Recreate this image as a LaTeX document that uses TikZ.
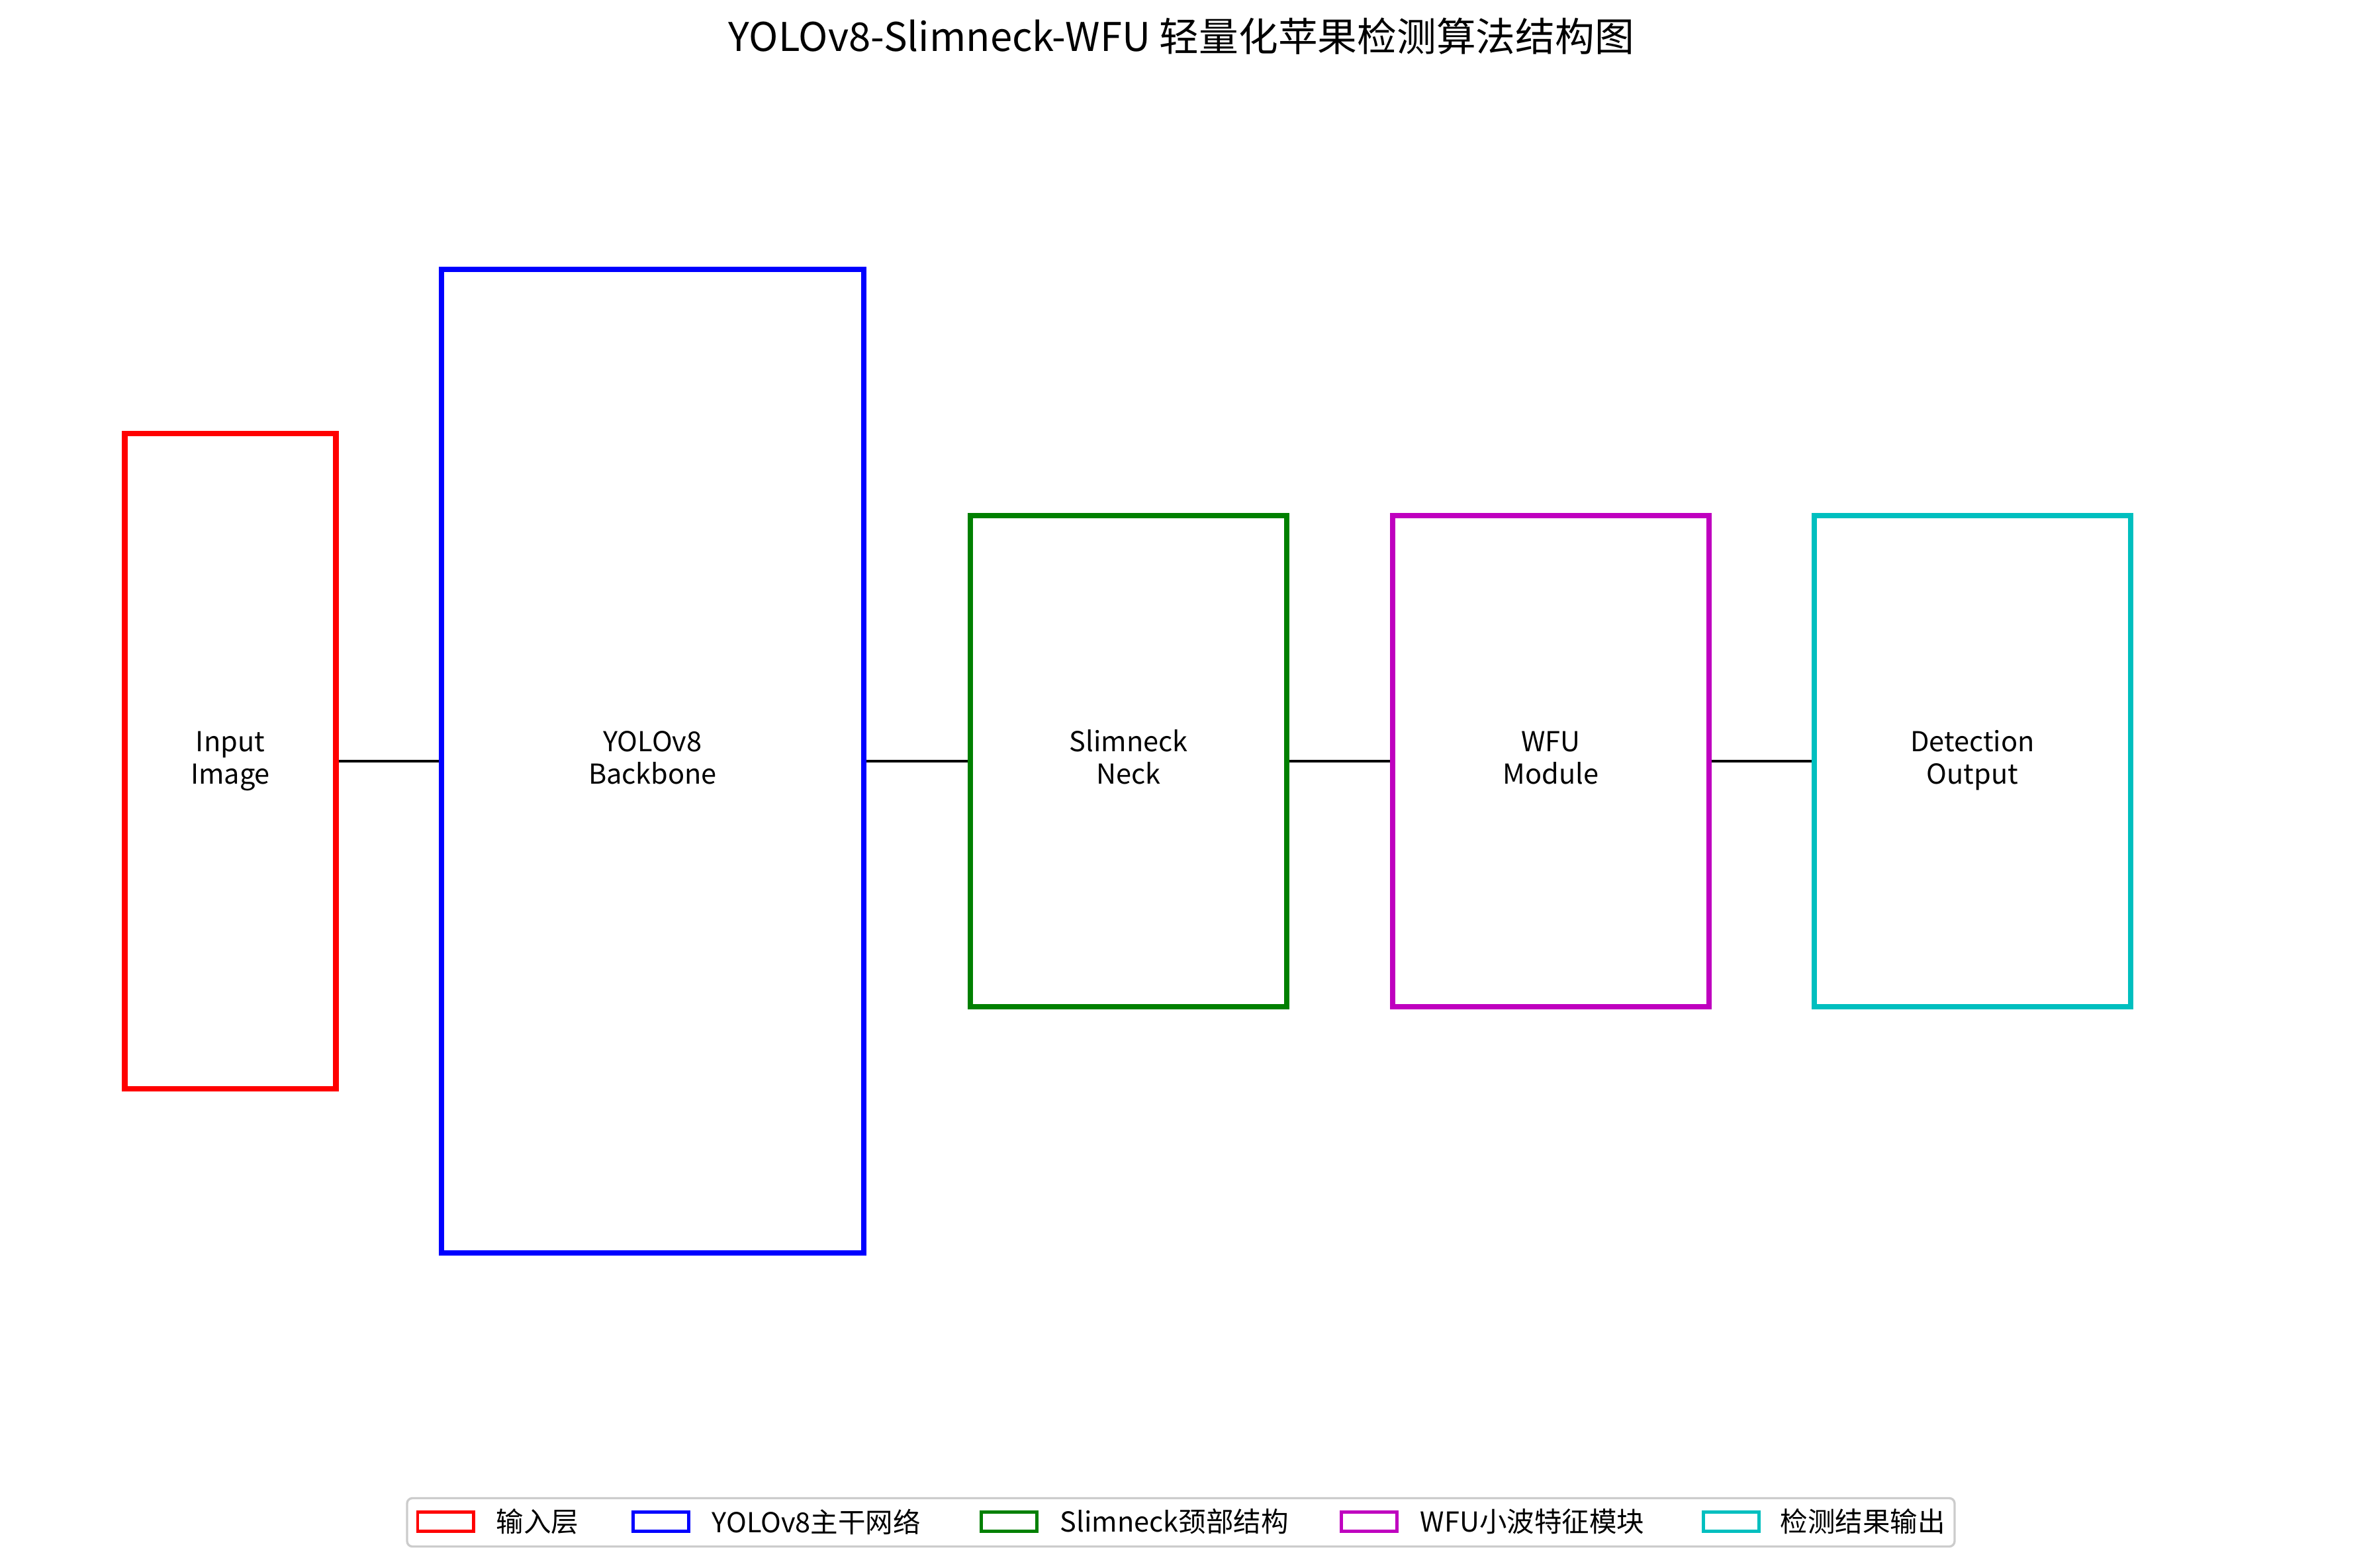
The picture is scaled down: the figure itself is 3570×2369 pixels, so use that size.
\documentclass[tikz,border=0pt]{standalone}
\usepackage{fontspec}
\setmainfont{Noto Sans CJK SC}
\usepackage{tikz}
\def\px{0.0846667mm}
\definecolor{neckgreen}{rgb}{0,0.5,0}
\definecolor{wfumagenta}{rgb}{0.75,0,0.75}
\definecolor{outcyan}{rgb}{0,0.75,0.75}
\tikzstyle{block}=[rectangle,draw,line width=2pt,align=center,inner sep=0pt,font=\fontsize{10}{12}\selectfont]
\tikzstyle{key}=[rectangle,draw,line width=1.2pt,inner sep=0pt,minimum width=84*\px,minimum height=29*\px]
\tikzstyle{keytext}=[anchor=west,inner sep=0pt,font=\fontsize{10}{12}\selectfont]
\newcommand{\block}{\node[block]}
\newcommand{\key}{\node[key]}

\begin{document}
\begin{tikzpicture}[x=\px,y=-\px]
			\useasboundingbox (0,0) rectangle (3570,2369);
			% % % % % % % % % % % % % % % % % % % % % % % % % % % % %
			\node [font=\fontsize{14.4}{17}\selectfont] (h) at (1785,55) {YOLOv8-Slimneck-WFU 轻量化苹果检测算法结构图};
			% % % % % % % % % % % % % % % % % % % % % % % % % % % % %
			\block [draw=red,minimum width=319*\px,minimum height=990*\px] (m1) at (348,1150) {Input\strut\\Image\strut};
			\block [draw=blue,minimum width=638*\px,minimum height=1486*\px] (m2) at (986,1150) {YOLOv8\strut\\Backbone\strut};
			\block [draw=neckgreen,minimum width=478*\px,minimum height=742*\px] (m3) at (1705,1150) {Slimneck\strut\\Neck\strut};
			\block [draw=wfumagenta,minimum width=478*\px,minimum height=742*\px] (m4) at (2343,1150) {WFU\strut\\Module\strut};
			\block [draw=outcyan,minimum width=478*\px,minimum height=742*\px] (m5) at (2980,1150) {Detection\strut\\Output\strut};
			%*********************
			\node [draw=black!20,line width=0.8pt,rounded corners=8*\px,minimum width=2338*\px,minimum height=73*\px] (l) at (1784,2300) {};
			\key [draw=red] (k1) at (673,2299) {};
			\key [draw=blue] (k2) at (998,2299) {};
			\key [draw=neckgreen] (k3) at (1524,2299) {};
			\key [draw=wfumagenta] (k4) at (2068,2299) {};
			\key [draw=outcyan] (k5) at (2615,2299) {};
			\node [keytext] (t1) at (749,2299) {输入层};
			\node [keytext] (t2) at (1075,2299) {YOLOv8主干网络};
			\node [keytext] (t3) at (1601,2299) {Slimneck颈部结构};
			\node [keytext] (t4) at (2145,2299) {WFU小波特征模块};
			\node [keytext] (t5) at (2689,2299) {检测结果输出};
			\path [line width=1.1pt]
			% % % % % % % % % % % % % % % % %
			(m1) edge [] (m2)
			(m2) edge [] (m3)
			(m3) edge [] (m4)
			(m4) edge [] (m5)
			;
\end{tikzpicture}
\end{document}
